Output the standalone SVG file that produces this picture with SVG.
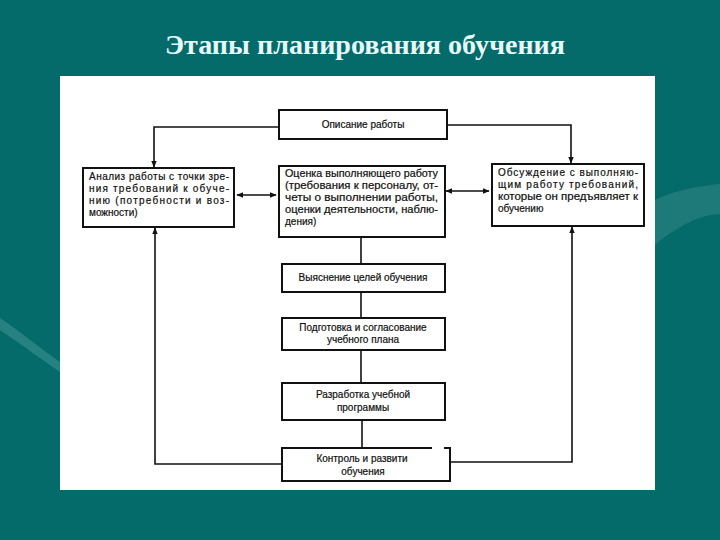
<svg xmlns="http://www.w3.org/2000/svg" width="720" height="540" viewBox="0 0 720 540">
<defs>
<style>
.box{fill:#fff;stroke:#111;stroke-width:2}
.ln{fill:none;stroke:#111;stroke-width:1.6}
.t{font-family:"Liberation Sans",Arial,sans-serif;font-size:10px;fill:#111;stroke:#111;stroke-width:0.2}
.c{text-anchor:middle}
</style>
<marker id="ah" viewBox="0 0 10 10" refX="9" refY="5" markerWidth="7" markerHeight="7" orient="auto-start-reverse" markerUnits="userSpaceOnUse">
<path d="M0,1 L10,5 L0,9 Z" fill="#111"/>
</marker>
</defs>
<rect width="720" height="540" fill="#046a6a"/>
<path d="M0,318 C25,335 45,352 60,362 L60,372 C45,362 25,347 0,330 Z" fill="#5aa7a4" opacity="0.4"/>
<path d="M655,200 C675,190 700,186 720,184 L720,214 C700,214 675,228 655,245 Z" fill="#3d8f8c" opacity="0.45"/>
<text x="365" y="54" text-anchor="middle" font-family="'Liberation Serif','Times New Roman',serif" font-weight="bold" font-size="27" fill="#e6fbfb" textLength="400" lengthAdjust="spacingAndGlyphs">Этапы планирования обучения</text>
<rect x="60" y="76" width="595" height="414" fill="#fff"/>

<g id="connectors">
<path class="ln" d="M279,127 H154 V167" marker-end="url(#ah)"/>
<path class="ln" d="M447,125 H571 V163" marker-end="url(#ah)"/>
<path class="ln" d="M237,195 H276" marker-start="url(#ah)" marker-end="url(#ah)"/>
<path class="ln" d="M446,191 H489" marker-start="url(#ah)" marker-end="url(#ah)"/>
<path class="ln" d="M361,237 V264"/>
<path class="ln" d="M361,292 V318"/>
<path class="ln" d="M361,350 V383"/>
<path class="ln" d="M362,420 V448"/>
<path class="ln" d="M282,464 H155 V228" marker-end="url(#ah)"/>
<path class="ln" d="M450,462 H572 V227" marker-end="url(#ah)"/>
</g>

<g id="n-opisanie">
<rect class="box" x="279" y="110" width="168" height="29"/>
<text class="t c" x="363" y="128">Описание работы</text>
</g>

<g id="n-analiz">
<rect class="box" x="83" y="168" width="151" height="59"/>
<text class="t" x="89" y="180" textLength="140" lengthAdjust="spacing">Анализ работы с точки зре-</text>
<text class="t" x="89" y="192" textLength="140" lengthAdjust="spacing">ния требований к обуче-</text>
<text class="t" x="89" y="204" textLength="140" lengthAdjust="spacing">нию (потребности и воз-</text>
<text class="t" x="89" y="216">можности)</text>
</g>

<g id="n-ocenka">
<rect class="box" x="279" y="166" width="166" height="71"/>
<text class="t" x="285" y="177" textLength="153" lengthAdjust="spacingAndGlyphs">Оценка выполняющего работу</text>
<text class="t" x="285" y="189" textLength="153" lengthAdjust="spacingAndGlyphs">(требования к персоналу, от-</text>
<text class="t" x="285" y="201" textLength="153" lengthAdjust="spacingAndGlyphs">четы о выполнении работы,</text>
<text class="t" x="285" y="213" textLength="153" lengthAdjust="spacingAndGlyphs">оценки деятельности, наблю-</text>
<text class="t" x="285" y="225">дения)</text>
</g>

<g id="n-obsuzhdenie">
<rect class="box" x="492" y="164" width="152" height="62"/>
<text class="t" x="498" y="176" textLength="140" lengthAdjust="spacing">Обсуждение с выполняю-</text>
<text class="t" x="498" y="188" textLength="140" lengthAdjust="spacing">щим работу требований,</text>
<text class="t" x="498" y="200" textLength="140" lengthAdjust="spacingAndGlyphs">которые он предъявляет к</text>
<text class="t" x="498" y="212">обучению</text>
</g>

<g id="n-vyyasnenie">
<rect class="box" x="282" y="264" width="163" height="28"/>
<text class="t c" x="363" y="281">Выяснение целей обучения</text>
</g>

<g id="n-podgotovka">
<rect class="box" x="282" y="318" width="163" height="32"/>
<text class="t c" x="363" y="331">Подготовка и согласование</text>
<text class="t c" x="363" y="343">учебного плана</text>
</g>

<g id="n-razrabotka">
<rect class="box" x="282" y="383" width="163" height="37"/>
<text class="t c" x="363" y="398">Разработка учебной</text>
<text class="t c" x="363" y="411">программы</text>
</g>

<g id="n-kontrol">
<path class="box" d="M432,448 H282 V481 H450 V448 H444" fill="#fff"/>
<text class="t c" x="362" y="462">Контроль и развити</text>
<text class="t c" x="363" y="475">обучения</text>
</g>
</svg>
